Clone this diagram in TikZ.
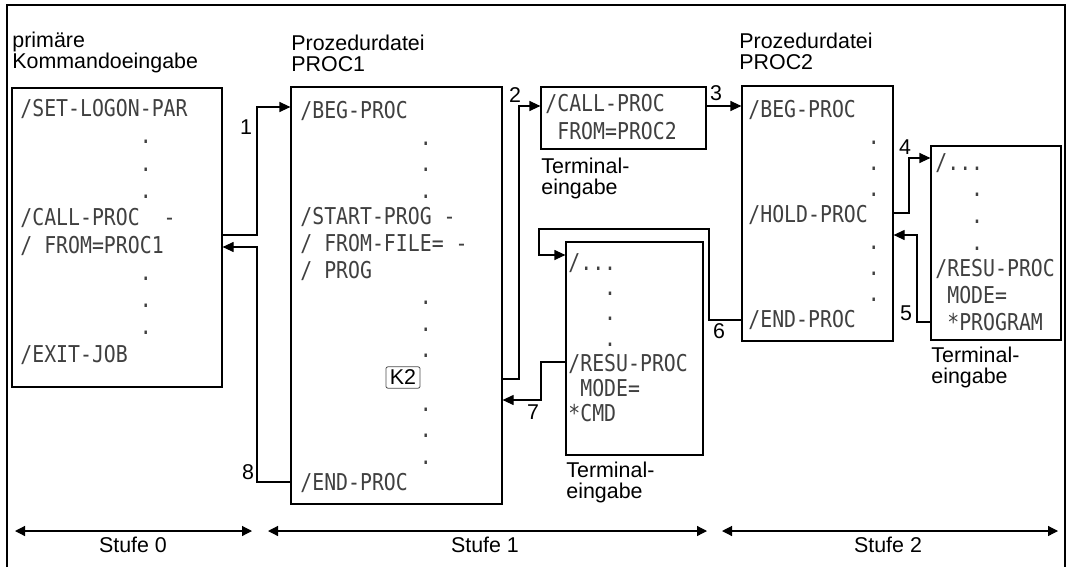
\documentclass[tikz,border=0pt]{standalone}
\usepackage{fontspec}
\setsansfont{Liberation Sans}
\newfontfamily\codefam[FakeStretch=0.855]{DejaVu Sans Mono}
\usetikzlibrary{arrows.meta,fit}

\newcommand\codefont{\codefam\fontsize{11.6}{13.5}\selectfont}
\newcommand\lblfont{\sffamily\fontsize{10.7}{10.4}\selectfont}
\newlength\cw
\AtBeginDocument{\settowidth\cw{\codefont x}}
\newcommand\lz[1]{\hspace*{#1\cw}}

\tikzset{
  box/.style={draw, line width=0.6pt, inner sep=0pt},
  code/.style={font=\codefont, text=black!75, anchor=base west, inner sep=0pt},
  lbl/.style={font=\lblfont, align=left, anchor=north west, inner sep=0pt},
  nr/.style={font=\lblfont, inner sep=0pt},
  taste/.style={draw=black!70, rounded corners=1pt, inner xsep=2pt, inner ysep=1.6pt, font=\lblfont},
  pfeil/.style={line width=0.6pt, -{Triangle[length=5.5pt,width=5pt]}},
  stufe/.style={line width=0.6pt, {Triangle[length=5pt,width=5pt]}-{Triangle[length=5pt,width=5pt]}}
}

\begin{document}
\begin{tikzpicture}[x=0.5pt, y=-0.5pt]
    \useasboundingbox (0,0) rectangle (1068,567);
    \draw[line width=0.6pt] (7,567) |- (1065,5) -- (1065,567);

    \node[box, fit={(12,88) (222,387)}] (kbox) {};
    \node[box, fit={(291,87) (502,504)}] (p1box) {};
    \node[box, fit={(541,87) (706,149)}] (cbox) {};
    \node[box, fit={(566,242) (703,455)}] (tbox) {};
    \node[box, fit={(742,86) (893,341)}] (p2box) {};
    \node[box, fit={(931,146) (1061,340)}] (rbox) {};

    \node[lbl] (l0) at (12,31.5) {primäre\\Kommandoeingabe};
    \node[lbl] (l1) at (291,35) {Prozedurdatei\\PROC1};
    \node[lbl] (l2) at (739,33) {Prozedurdatei\\PROC2};
    \node[lbl] (l3) at (541,158) {Terminal-\\eingabe};
    \node[lbl] (l4) at (566,462) {Terminal-\\eingabe};
    \node[lbl] (l5) at (931,347) {Terminal-\\eingabe};

    \foreach \t [count=\i from 0] in {/SET-LOGON-PAR, \lz{10}., \lz{10}., \lz{10}., /CALL-PROC\lz{2}-, / FROM=PROC1, \lz{10}., \lz{10}., \lz{10}., /EXIT-JOB}
        \node[code] (k0-\i) at (20, {116.5+27.3*\i}) {\t};
    \foreach \t [count=\i from 0] in {/BEG-PROC, \lz{10}., \lz{10}., \lz{10}., /START-PROG -, / FROM-FILE= -, / PROG, \lz{10}., \lz{10}., \lz{10}., \lz{10}., \lz{10}., \lz{10}., /END-PROC}
        \node[code] (p1-\i) at (300, {118.5+26.6*(\i+(\i>9))}) {\t};
    \node[taste] (k2) at (403,377.5) {K2};
    \foreach \t [count=\i from 0] in {/CALL-PROC, \lz{1}FROM=PROC2}
        \node[code] (c-\i) at (545, {112+27.4*\i}) {\t};
    \foreach \t [count=\i from 0] in {/.{}.{}., \lz{3}., \lz{3}., \lz{3}., /RESU-PROC, \lz{1}MODE=, *CMD}
        \node[code] (t-\i) at (568, {270.5+25.2*\i}) {\t};
    \foreach \t [count=\i from 0] in {/BEG-PROC, \lz{10}., \lz{10}., \lz{10}., /HOLD-PROC, \lz{10}., \lz{10}., \lz{10}., /END-PROC}
        \node[code] (p2-\i) at (748, {118+26.2*\i}) {\t};
    \foreach \t [count=\i from 0] in {/.{}.{}., \lz{3}., \lz{3}., \lz{3}., /RESU-PROC, \lz{1}MODE=, \lz{1}*PROGRAM}
        \node[code] (r-\i) at (935, {170+26.7*\i}) {\t};

    \draw[pfeil] (kbox.east |- 0,235) -| (257,107) -- (p1box.west |- 0,107);
    \draw[pfeil] (p1box.east |- 0,379) -| (519,106) -- (cbox.west |- 0,106);
    \draw[pfeil] (cbox.east |- 0,106) -- (p2box.west |- 0,106);
    \draw[pfeil] (p2box.east |- 0,213) -| (909,158) -- (rbox.west |- 0,158);
    \draw[pfeil] (rbox.west |- 0,322) -| (917,235) -- (p2box.east |- 0,235);
    \draw[pfeil] (p2box.west |- 0,320) -| (709,229) -| (539,255) -- (tbox.west |- 0,255);
    \draw[pfeil] (tbox.west |- 0,362) -| (541,400) -- (p1box.east |- 0,400);
    \draw[pfeil] (p1box.west |- 0,482) -| (257,247) -- (kbox.east |- 0,247);

    \node[nr] (n1) at (246,127) {1};
    \node[nr] (n2) at (515,95) {2};
    \node[nr] (n3) at (716,93) {3};
    \node[nr] (n4) at (905,147) {4};
    \node[nr] (n5) at (906,313) {5};
    \node[nr] (n6) at (719,331) {6};
    \node[nr] (n7) at (533,412) {7};
    \node[nr] (n8) at (248,472) {8};

    \coordinate (s0l) at (15,531);
    \coordinate (s0r) at (252,531);
    \coordinate (s1l) at (268,531);
    \coordinate (s1r) at (707,531);
    \coordinate (s2l) at (722,531);
    \coordinate (s2r) at (1058,531);
    \draw[stufe] (s0l) -- (s0r);
    \draw[stufe] (s1l) -- (s1r);
    \draw[stufe] (s2l) -- (s2r);
    \node[nr] (st0) at (133,545) {Stufe 0};
    \node[nr] (st1) at (485,545) {Stufe 1};
    \node[nr] (st2) at (888,545) {Stufe 2};
\end{tikzpicture}
\end{document}
